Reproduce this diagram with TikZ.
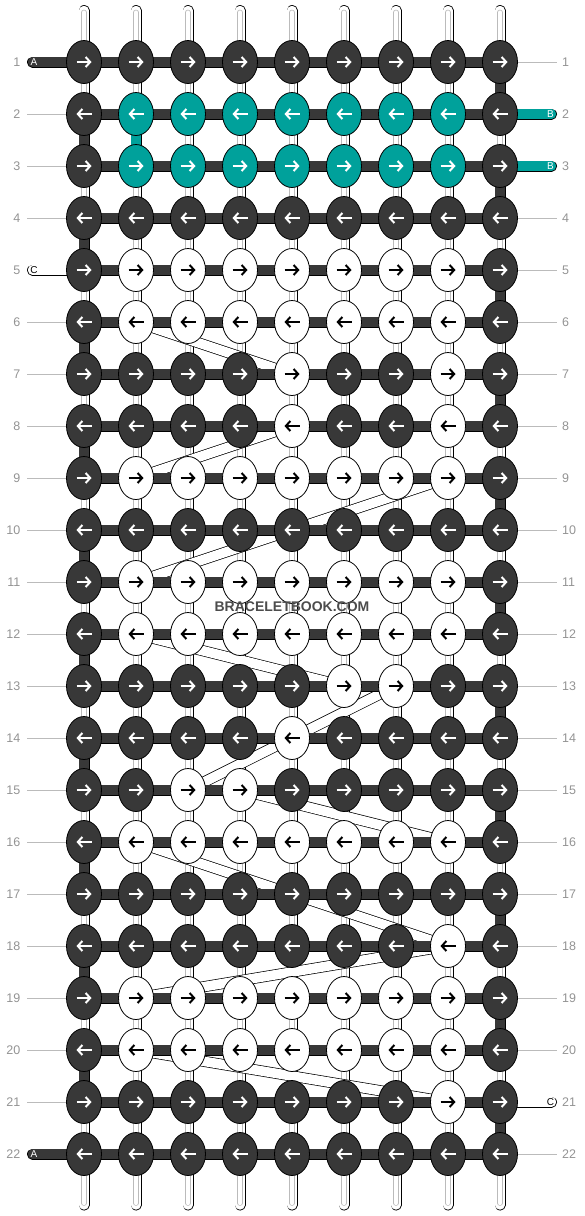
\documentclass[tikz,border=0pt]{standalone}
\usepackage{fontspec}
\setmainfont{Liberation Sans}
\usetikzlibrary{shapes.geometric}
\usetikzlibrary{arrows.meta}

\definecolor{knotdark}{HTML}{383838}
\definecolor{knotteal}{HTML}{00A19B}
\definecolor{rowgray}{HTML}{939393}
\definecolor{linegray}{HTML}{BBBBBB}

\begin{document}
\begin{tikzpicture}[x=1pt,y=-1pt]

\tikzset{
    warp/.style={draw=black, double=white, double distance=9.4pt, line width=0.8pt, line cap=round},
    warpmid/.style={draw=linegray, double=white, double distance=4.2pt, line width=0.7pt, line cap=round, shorten <=2pt, shorten >=2pt},
    bar/.style={draw=black, double=#1, double distance=9.4pt, line width=0.8pt},
    bar/.default=knotdark,
    floatband/.style={draw=black, double=white, double distance=9.6pt, line width=0.7pt},
    knot/.style={draw, ellipse, line width=0.8pt, minimum width=35pt, minimum height=43pt, inner sep=0pt},
    knot-d/.style={fill=knotdark},
    knot-t/.style={fill=knotteal},
    knot-w/.style={fill=white},
    arr-d/.style={draw=white},
    arr-t/.style={draw=white},
    arr-w/.style={draw=black},
    myarrow/.style={line width=2pt, -{Straight Barb[length=4.5pt,width=10pt]}},
    rownum/.style={text=rowgray, inner sep=0pt, font=\fontsize{12.5}{12.5}\selectfont},
    rowline/.style={draw=linegray, line width=0.8pt},
    tail/.style={draw=black, double=#1, double distance=9.4pt, line width=0.8pt, line cap=round},
    taillabel/.style={inner sep=0pt, font=\fontsize{10}{10}\selectfont}
}

\useasboundingbox (0,0) rectangle (584,1216);

% Grid of knot positions
\foreach \r in {1,...,22}{
    \foreach \c in {1,...,9}{
        \coordinate (p-\r-\c) at ({32+52*\c},{10+52*\r});
    }
}

% Vertical strings
\foreach \c in {1,...,9}{
    \coordinate (wt-\c) at ({32+52*\c},10.5);
    \coordinate (wb-\c) at ({32+52*\c},1205);
    \draw[warp] (wt-\c) -- (wb-\c);
    \draw[warpmid] (wt-\c) -- (wb-\c);
}

% Floating threads behind the knots
\foreach \ra/\ca/\rb/\cb in {6/2/7/5, 8/5/9/2, 9/8/11/2, 12/2/13/6, 13/7/14/5,
                            14/5/15/3, 15/4/16/8, 16/2/18/8, 18/8/19/2, 20/2/21/8}
    \draw[floatband] (p-\ra-\ca) -- (p-\rb-\cb);

% Working thread, rows
\foreach \r in {1,...,22}{
    \foreach \c [evaluate=\c as \n using int(\c+1)] in {1,...,8}
        \draw[bar] (p-\r-\c) -- (p-\r-\n);
}

% Working thread, turns at the edges
\foreach \r [evaluate=\r as \n using int(\r+1)] in {1,3,...,21}
    \draw[bar] (p-\r-9) -- (p-\n-9);
\foreach \r [evaluate=\r as \n using int(\r+1)] in {2,4,...,20}
    \draw[bar] (p-\r-1) -- (p-\n-1);

% Turn of thread B
\draw[bar=knotteal] (p-2-2) -- (p-3-2);

% Loose ends
\coordinate (tl-1) at (32.5,62);
\coordinate (tl-5) at (32.5,270);
\coordinate (tl-22) at (32.5,1154);
\coordinate (tr-2) at (551.5,114);
\coordinate (tr-3) at (551.5,166);
\coordinate (tr-21) at (551.5,1102);
\draw[tail=knotdark] (tl-1) -- (p-1-1);
\draw[tail=white] (tl-5) -- (p-5-1);
\draw[tail=knotdark] (tl-22) -- (p-22-1);
\draw[tail=knotteal] (p-2-9) -- (tr-2);
\draw[tail=knotteal] (p-3-9) -- (tr-3);
\draw[tail=white] (p-21-9) -- (tr-21);
\node[taillabel, text=white] (a-1) at (34,62) {A};
\node[taillabel, text=black] (c-5) at (34,270) {C};
\node[taillabel, text=white] (a-22) at (34,1154) {A};
\node[taillabel, text=white] (b-2) at (550.5,114) {B};
\node[taillabel, text=white] (b-3) at (550.5,166) {B};
\node[taillabel, text=black] (c-21) at (550.5,1102) {C};

% Row guides
\foreach \r in {2,3,4,6,7,8,9,10,11,12,13,14,15,16,17,18,19,20,21}{
    \coordinate (gl-\r) at (27,{10+52*\r});
    \draw[rowline] (gl-\r) -- (p-\r-1);
}
\foreach \r in {1,4,5,6,7,8,9,10,11,12,13,14,15,16,17,18,19,20,22}{
    \coordinate (gr-\r) at (557,{10+52*\r});
    \draw[rowline] (p-\r-9) -- (gr-\r);
}

% Knots
\foreach \r/\cols in {1/{d,d,d,d,d,d,d,d,d}, 2/{d,t,t,t,t,t,t,t,d},
                      3/{d,t,t,t,t,t,t,t,d}, 4/{d,d,d,d,d,d,d,d,d},
                      5/{d,w,w,w,w,w,w,w,d}, 6/{d,w,w,w,w,w,w,w,d},
                      7/{d,d,d,d,w,d,d,w,d}, 8/{d,d,d,d,w,d,d,w,d},
                      9/{d,w,w,w,w,w,w,w,d}, 10/{d,d,d,d,d,d,d,d,d},
                      11/{d,w,w,w,w,w,w,w,d}, 12/{d,w,w,w,w,w,w,w,d},
                      13/{d,d,d,d,d,w,w,d,d}, 14/{d,d,d,d,w,d,d,d,d},
                      15/{d,d,w,w,d,d,d,d,d}, 16/{d,w,w,w,w,w,w,w,d},
                      17/{d,d,d,d,d,d,d,d,d}, 18/{d,d,d,d,d,d,d,w,d},
                      19/{d,w,w,w,w,w,w,w,d}, 20/{d,w,w,w,w,w,w,w,d},
                      21/{d,d,d,d,d,d,d,w,d}, 22/{d,d,d,d,d,d,d,d,d}}{
    \pgfmathsetmacro{\dir}{ifthenelse(mod(\r,2)==1,1,-1)}
    \foreach \k [count=\c] in \cols {
        \node[knot, knot-\k] (k-\r-\c) at (p-\r-\c) {};
        \draw[myarrow, arr-\k] ([xshift={-7.5*\dir}]k-\r-\c.center) -- ([xshift={7.5*\dir}]k-\r-\c.center);
    }
}

% Row numbers
\foreach \r in {1,...,22}{
    \node[rownum, anchor=east] (nl-\r) at (20.5,{10+52*\r}) {\r};
    \node[rownum, anchor=west] (nr-\r) at (562,{10+52*\r}) {\r};
}

\node[font=\bfseries\fontsize{14}{14}\selectfont, text=knotdark!90] (brand) at (292,607) {BRACELETBOOK.COM};

\end{tikzpicture}
\end{document}
